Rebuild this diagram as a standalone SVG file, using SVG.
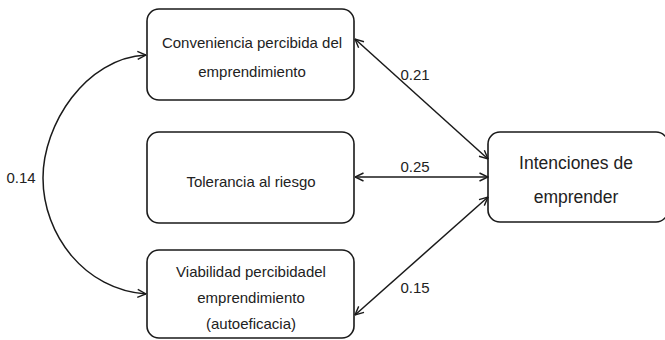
<svg xmlns="http://www.w3.org/2000/svg" width="665" height="340" viewBox="0 0 665 340">
<defs>
<marker id="ah" viewBox="0 0 10 10" refX="9.5" refY="5" markerWidth="10" markerHeight="10" markerUnits="userSpaceOnUse" orient="auto-start-reverse">
<path d="M1,1 L9.5,5 L1,9" fill="none" stroke="#1a1a1a" stroke-width="1.4"/>
</marker>
<style>
.box{fill:#fff;stroke:#1a1a1a;stroke-width:1.6}
.t{font-family:"Liberation Sans",Arial,sans-serif;font-size:15px;fill:#222;text-anchor:middle}
.tb{font-family:"Liberation Sans",Arial,sans-serif;font-size:17.5px;fill:#222;text-anchor:middle}
.c{fill:none;stroke:#1a1a1a;stroke-width:1.5}
</style>
</defs>
<rect width="665" height="340" fill="#fff"/>
<g id="n1"><rect class="box" x="147" y="9" width="207" height="91" rx="12"/>
<text class="t" x="252" y="48">Conveniencia percibida del</text>
<text class="t" x="252" y="77">emprendimiento</text></g>
<g id="n2"><rect class="box" x="147" y="132" width="207" height="91" rx="12"/>
<text class="t" x="251" y="187">Tolerancia al riesgo</text></g>
<g id="n3"><rect class="box" x="147" y="250" width="207" height="88" rx="12"/>
<text class="t" x="251" y="277">Viabilidad percibidadel</text>
<text class="t" x="251" y="303">emprendimiento</text>
<text class="t" x="251" y="329">(autoeficacia)</text></g>
<g id="n4"><rect class="box" x="488" y="132" width="180" height="90" rx="12"/>
<text class="tb" x="576" y="169">Intenciones de</text>
<text class="tb" x="576" y="203">emprender</text></g>
<g id="connectors">
<path class="c" d="M355,39 L488,159" marker-start="url(#ah)" marker-end="url(#ah)"/>
<path class="c" d="M355,177 L488,177" marker-start="url(#ah)" marker-end="url(#ah)"/>
<path class="c" d="M488,197 L355,315" marker-start="url(#ah)" marker-end="url(#ah)"/>
<path class="c" d="M146,55 C85,58 43,125 43,178 C43,235 85,290 146,294" marker-start="url(#ah)" marker-end="url(#ah)"/>
<text class="t" x="415" y="80">0.21</text>
<text class="t" x="415" y="172">0.25</text>
<text class="t" x="415" y="293">0.15</text>
<text class="t" x="21" y="183">0.14</text>
</g>
</svg>
